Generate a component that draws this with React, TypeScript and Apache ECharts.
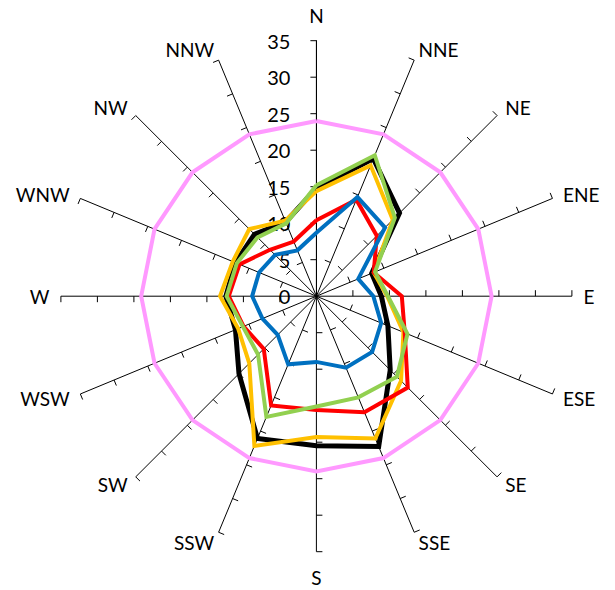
import React, { useEffect, useRef } from 'react';
import * as echarts from 'echarts';

const DIRECTIONS = ['N', 'NNE', 'NE', 'ENE', 'E', 'ESE', 'SE', 'SSE', 'S', 'SSW', 'SW', 'WSW', 'W', 'WNW', 'NW', 'NNW'];
const RADIUS_TICKS = [0, 5, 10, 15, 20, 25, 30, 35];

const REFERENCE = [24, 24, 24, 24, 24, 24, 24, 24, 24, 24, 24, 24, 24, 24, 24, 24];
const BLACK = [14.8, 20.4, 16.1, 8.2, 8.9, 10.6, 14.3, 22.3, 20.5, 21.1, 15.0, 12.0, 12.4, 12.0, 12.0, 11.0];
const ORANGE = [14.4, 19.4, 14.8, 8.5, 9.7, 12.9, 16.4, 21.1, 19.3, 22.2, 13.0, 11.6, 13.2, 12.4, 13.0, 11.2];
const RED = [10.4, 14.3, 11.7, 8.5, 11.7, 13.1, 17.7, 17.2, 15.6, 16.2, 10.2, 10.8, 12.0, 11.4, 9.0, 8.1];
const GREEN = [15.2, 20.9, 15.2, 8.7, 9.8, 13.5, 15.6, 15.0, 15.1, 17.9, 11.3, 10.9, 12.3, 11.8, 11.4, 10.8];
const BLUE = [8.7, 14.7, 13.3, 6.2, 7.8, 9.6, 10.8, 10.6, 9.0, 10.1, 7.5, 8.0, 8.8, 8.5, 8.0, 6.8];

const STEP = 360 / DIRECTIONS.length;

function closedPolar(values: number[]): number[][] {
  const pts = values.map((v, i) => [v, i * STEP]);
  pts.push([values[0], 360]);
  return pts;
}

function lineSeries(name: string, values: number[], color: string, width: number, z: number) {
  return {
    name,
    type: 'line',
    coordinateSystem: 'polar',
    data: closedPolar(values),
    symbol: 'none',
    smooth: false,
    clip: false,
    z,
    lineStyle: { color, width, join: 'miter' },
    itemStyle: { color },
    emphasis: { disabled: true },
  };
}

export default function App() {
  const ref = useRef<HTMLDivElement>(null);

  useEffect(() => {
    if (!ref.current) return;
    const chart = echarts.init(ref.current, undefined, { renderer: 'svg' });
    const maxR = RADIUS_TICKS[RADIUS_TICKS.length - 1];
    chart.setOption({
      animation: false,
      backgroundColor: '#ffffff',
      polar: { center: [316.4, 296.2], radius: 255.5 },
      angleAxis: {
        type: 'value',
        min: 0,
        max: 360,
        interval: STEP,
        startAngle: 90,
        clockwise: true,
        axisLine: { show: false },
        axisTick: { show: false },
        axisLabel: { show: false },
        splitLine: { show: true, lineStyle: { color: '#000000', width: 1 } },
      },
      radiusAxis: {
        type: 'value',
        min: 0,
        max: maxR,
        interval: 5,
        axisLine: { show: true, lineStyle: { color: '#000000', width: 1 } },
        axisTick: { show: false },
        splitLine: { show: false },
        axisLabel: {
          show: true,
          margin: 26,
          fontSize: 20,
          color: '#000000',
          fontFamily: 'Lato, "Open Sans", sans-serif',
        },
      },
      series: [
        {
          type: 'custom',
          coordinateSystem: 'polar',
          silent: true,
          z: 1,
          data: DIRECTIONS.map((_, i) => [maxR, i * STEP]),
          renderItem: (params: any, api: any) => {
            const ang = api.value(1);
            const c = api.coord([0, ang]);
            const tip = api.coord([maxR, ang]);
            const dx = tip[0] - c[0];
            const dy = tip[1] - c[1];
            const L = Math.hypot(dx, dy) || 1;
            const ux = dx / L;
            const uy = dy / L;
            const px = uy;
            const py = -ux;
            const children: any[] = [];
            RADIUS_TICKS.forEach((r) => {
              if (r <= 0) return;
              const p = api.coord([r, ang]);
              children.push({
                type: 'line',
                shape: { x1: p[0], y1: p[1], x2: p[0] + px * 6, y2: p[1] + py * 6 },
                style: { stroke: '#000000', lineWidth: 1 },
              });
            });
            const vertical = Math.abs(uy) > 0.99;
            const g = vertical ? 16 : 11.5;
            const align = Math.abs(ux) < 0.1 ? 'center' : ux > 0 ? 'left' : 'right';
            const vAlign = vertical ? (uy < 0 ? 'bottom' : 'top') : 'middle';
            children.push({
              type: 'text',
              x: tip[0] + ux * g,
              y: tip[1] + uy * g,
              style: {
                text: DIRECTIONS[params.dataIndex],
                fill: '#000000',
                fontSize: 19,
                fontFamily: 'Lato, "Open Sans", sans-serif',
                align,
                verticalAlign: vAlign,
              },
            });
            return { type: 'group', children };
          },
        },
        lineSeries('Reference', REFERENCE, '#FF99FF', 4, 2),
        lineSeries('Black', BLACK, '#000000', 5, 3),
        lineSeries('Orange', ORANGE, '#FFC000', 4, 4),
        lineSeries('Red', RED, '#FF0000', 4, 5),
        lineSeries('Green', GREEN, '#92D050', 4, 6),
        lineSeries('Blue', BLUE, '#0070C0', 4, 7),
      ],
    });
    return () => chart.dispose();
  }, []);

  return (
    <div
      ref={ref}
      style={{ position: 'fixed', left: 0, top: 0, width: 615, height: 590, background: '#fff' }}
    />
  );
}
